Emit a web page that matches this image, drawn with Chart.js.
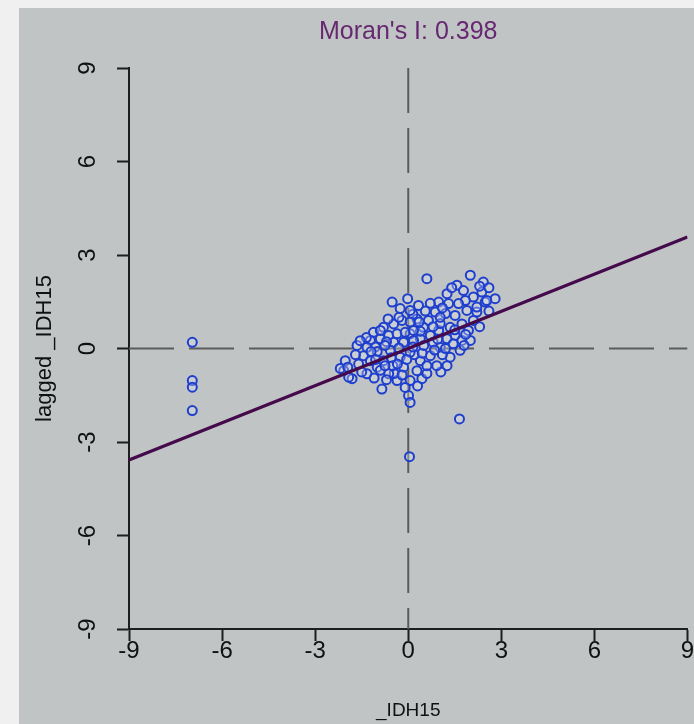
<!DOCTYPE html>
<html>
<head>
<meta charset="utf-8">
<script src="https://cdn.jsdelivr.net/npm/chart.js@4/dist/chart.umd.min.js"></script>
<style>
  html, body { margin: 0; padding: 0; background: #f0f0f0; }
  #wrap { position: absolute; left: 19px; top: 8px; width: 675px; height: 716px; background: #c0c4c4; }
</style>
</head>
<body>
<div id="wrap"><canvas id="myChart" width="675" height="716"></canvas></div>
<script>
// values
const pointsX = [-6.96,-6.96,-6.96,-6.96,0.04,1.65,0.60,2.00,2.42,2.80,
  1.57,1.25,2.37,2.48,2.10,1.84,1.62,1.30,0.98,0.87,
  0.65,0.33,0.28,1.20,1.51,1.89,2.21,2.10,1.73,1.35,
  0.98,0.71,0.39,1.51,1.94,0.49,1.25,1.73,1.78,2.53,
  2.21,1.03,0.15,0.71,1.03,2.00,1.85,1.45,1.67,1.35,
  1.25,1.05,1.03,0.71,0.92,0.44,0.60,0.39,0.28,0.80,
  0.39,0.06,2.60,2.30,1.40,1.10,0.55,0.80,1.10,1.50,
  0.60,0.20,1.80,2.30,2.60,-0.52,-0.26,-0.02,0.06,-1.12,
  -0.80,-0.47,-0.20,0.06,-0.90,-0.63,-0.36,-0.10,0.17,-1.22,
  -0.47,-0.15,0.17,-1.06,-1.33,-1.44,-1.22,-2.03,-2.08,-1.81,
  -2.19,-1.92,-1.33,-0.85,0.01,0.06,0.06,-0.36,-0.45,-0.10,
  -0.63,0.06,-0.26,-0.58,-0.80,-1.00,-0.15,-0.70,-0.55,-1.35,
  -0.90,-0.65,-0.30,-1.60,-1.70,-1.00,-0.70,-1.10,-0.50,-0.90,
  -1.50,-0.20,0.30,-0.05,0.15,-0.30,-1.20,-1.05,-1.65,-1.55,
  -0.75,-0.35,-0.75,0.45,0.50,0.35,0.95,1.20,0.85,-1.95];
const pointsY = [0.20,-1.03,-1.24,-1.99,-3.47,-2.26,2.24,2.35,2.13,1.60,
  2.03,1.76,1.81,1.49,1.65,1.54,1.44,1.44,1.49,1.17,
  0.90,1.38,0.95,1.12,1.06,1.22,1.17,0.90,0.79,0.68,
  0.58,0.42,0.31,0.42,0.58,0.68,0.31,0.26,1.86,1.54,
  1.33,0.80,1.10,1.45,1.00,0.26,0.45,0.15,-0.06,-0.28,
  -0.55,-0.75,0.04,-0.23,-0.55,-0.97,-0.80,-0.39,-0.71,0.70,
  0.55,0.47,1.95,2.00,1.95,1.30,1.20,0.20,-0.20,0.60,
  -0.55,-0.20,0.10,0.70,1.20,1.49,1.28,1.60,1.22,0.52,
  0.68,0.79,0.90,0.85,0.31,0.42,0.47,0.52,0.58,0.26,
  0.20,0.20,0.26,0.05,0.04,-0.23,-0.39,-0.39,-0.71,-0.97,
  -0.64,-0.92,-0.81,-1.30,-1.51,-1.73,-1.03,-1.03,-0.80,-1.25,
  -0.81,-0.12,-0.28,-0.06,-0.39,-0.60,-0.60,0.22,-0.30,0.35,
  0.58,0.95,1.00,-0.50,-0.20,-0.10,-1.00,-0.95,-0.55,-0.70,
  -0.75,-0.85,-1.20,-0.35,0.05,0.02,-0.10,-0.35,0.10,0.25,
  0.10,-0.50,-0.55,-0.15,0.10,0.85,0.30,0.00,-0.05,-0.60];

// Moran's I regression line (slope 0.398)
const fitX = [-9, 9];
const fitY = [-3.58, 3.58];

const xTicks = [-9, -6, -3, 0, 3, 6, 9];
const yTicks = [-9, -6, -3, 0, 3, 6, 9];

const titleText = "Moran's I: 0.398";
const xLabel = "_IDH15";
const yLabel = "lagged _IDH15";

const fontFamily = "'Liberation Sans', Arial, sans-serif";
const axisColor = "#1e1e1e";

const points = pointsX.map((x, i) => ({x: x, y: pointsY[i]}));
const fitLine = fitX.map((x, i) => ({x: x, y: fitY[i]}));

var ctx = document.getElementById('myChart').getContext('2d');
var myChart = new Chart(ctx, {
  type: 'scatter',
  data: {
    datasets: [
      {
        data: fitLine,
        showLine: true,
        borderColor: "#450a4c",
        borderWidth: 3.2,
        pointRadius: 0,
        order: 0
      },
      {
        data: points,
        borderColor: "rgb(30,62,205)",
        backgroundColor: "rgba(225,232,245,0.3)",
        borderWidth: 2,
        pointRadius: 4.5,
        order: 1
      },
      {
        data: [{x: 0, y: 9}, {x: 0, y: -9}],
        showLine: true,
        borderColor: "#5c5c5c",
        borderWidth: 2,
        borderDash: [45, 15],
        pointRadius: 0,
        order: 2
      },
      {
        data: [{x: -9, y: 0}, {x: 9, y: 0}],
        showLine: true,
        borderColor: "#5c5c5c",
        borderWidth: 2,
        borderDash: [45, 15],
        pointRadius: 0,
        order: 3
      }
    ]
  },
  options: {
    responsive: false,
    animation: false,
    devicePixelRatio: 1,
    layout: { padding: { left: 0, right: 6, top: 0, bottom: 0 } },
    plugins: {
      legend: { display: false },
      tooltip: { enabled: false }
    },
    scales: {
      x: {
        type: 'linear',
        position: 'bottom',
        min: -9, max: 9,
        afterBuildTicks: (scale) => { scale.ticks = xTicks.map(v => ({value: v})); },
        afterFit: (scale) => { scale.height = 95; },
        grid: { drawOnChartArea: false, drawTicks: true, tickLength: 12, tickWidth: 2, tickColor: axisColor },
        border: { display: true, color: axisColor, width: 2 },
        ticks: { color: "#111", padding: -2, maxRotation: 0, font: { family: fontFamily, size: 24, lineHeight: 1 } },
        title: { display: true, text: xLabel, color: "#111", padding: { top: 0, bottom: 2 }, font: { family: fontFamily, size: 19 } }
      },
      x2: {
        type: 'linear',
        position: 'top',
        min: -9, max: 9,
        afterFit: (scale) => { scale.height = 60; },
        grid: { display: false },
        border: { display: false },
        ticks: { display: false },
        title: { display: true, text: titleText, color: "#662870", padding: { top: 9, bottom: 0 }, font: { family: fontFamily, size: 25 } }
      },
      y: {
        type: 'linear',
        position: 'left',
        min: -9, max: 9,
        afterBuildTicks: (scale) => { scale.ticks = yTicks.map(v => ({value: v})); },
        afterFit: (scale) => { scale.width = 110; },
        grid: { drawOnChartArea: false, drawTicks: true, tickLength: 12, tickWidth: 2, tickColor: axisColor },
        border: { display: true, color: axisColor, width: 2 },
        ticks: { color: "#111", padding: 18, minRotation: 90, maxRotation: 90, crossAlign: 'center', font: { family: fontFamily, size: 24 } },
        title: { display: true, text: yLabel, color: "#111", padding: { top: 13, bottom: 0 }, font: { family: fontFamily, size: 22 } }
      }
    }
  }
});
</script>
</body>
</html>
